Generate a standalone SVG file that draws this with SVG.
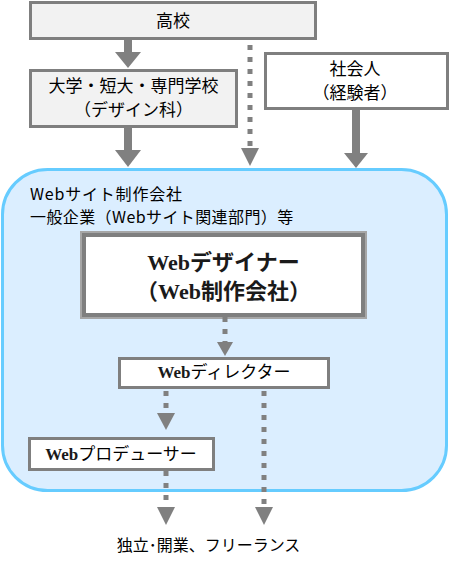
<svg xmlns="http://www.w3.org/2000/svg" width="450" height="566" viewBox="0 0 450 566">
<style>
.box{stroke:#7f7f7f;stroke-width:3}
.t{font-family:"Noto Sans CJK JP","Liberation Sans",sans-serif;fill:#000}
.s{font-family:"Liberation Serif","Noto Sans CJK JP",serif;font-weight:bold;fill:#1a1a1a}
.shaft{fill:#808080}
.dot{stroke:#808080;stroke-width:5;stroke-dasharray:5 7;fill:none}
.head{fill:#808080}
</style>
<rect width="450" height="566" fill="#fff"/>
<g id="company">
<rect x="2.5" y="169.5" width="444" height="321" rx="45" fill="#dbeeff" stroke="#66ccff" stroke-width="3"/>
<text class="t" x="30" y="200" font-size="16" letter-spacing="0.8">Webサイト制作会社</text>
<text class="t" x="30" y="223" font-size="16" letter-spacing="0.4">一般企業（Webサイト関連部門）等</text>
</g>
<g id="koko">
<rect class="box" x="30.5" y="2.5" width="285" height="36" fill="#f2f2f2"/>
<text class="t" x="173" y="27" font-size="17" text-anchor="middle">高校</text>
</g>
<g id="daigaku">
<rect class="box" x="30.5" y="70.5" width="206" height="56" fill="#f2f2f2"/>
<text class="t" x="133.5" y="92" font-size="17" text-anchor="middle">大学・短大・専門学校</text>
<text class="t" x="133.5" y="115.5" font-size="17" text-anchor="middle">（デザイン科）</text>
</g>
<g id="shakaijin">
<rect class="box" x="265.5" y="53.5" width="182" height="55" fill="#fff"/>
<text class="t" x="355" y="75" font-size="17" text-anchor="middle">社会人</text>
<text class="t" x="355" y="98.5" font-size="17" text-anchor="middle">（経験者）</text>
</g>
<g id="designer">
<rect x="81" y="232" width="285" height="86" fill="none" stroke="#a6a6a6" stroke-width="2"/>
<rect x="84" y="235" width="279" height="80" fill="#fff" stroke="#7f7f7f" stroke-width="4"/>
<text class="s" x="223.5" y="270" font-size="22" text-anchor="middle">Webデザイナー</text>
<text class="s" x="223.5" y="299" font-size="22" text-anchor="middle">（Web制作会社）</text>
</g>
<g id="director">
<rect class="box" x="119.5" y="358.5" width="209" height="29" fill="#fff"/>
<text x="224" y="378" font-size="17" text-anchor="middle"><tspan class="s">Web</tspan><tspan class="t">ディレクター</tspan></text>
</g>
<g id="producer">
<rect class="box" x="29.5" y="438.5" width="184" height="31" fill="#fff"/>
<text x="121" y="460" font-size="17" text-anchor="middle"><tspan class="s">Web</tspan><tspan class="t">プロデューサー</tspan></text>
</g>
<g id="independent">
<text class="t" x="208.5" y="551" font-size="16" text-anchor="middle">独立･開業、フリーランス</text>
</g>
<g id="connectors">
<rect class="shaft" x="124" y="40" width="8" height="13"/>
<polygon class="head" points="115,52 141,52 128,68"/>
<rect class="shaft" x="124" y="127" width="8" height="24"/>
<polygon class="head" points="115,150 141,150 128,167"/>
<rect class="shaft" x="352" y="109" width="8" height="45"/>
<polygon class="head" points="344,153 368,153 356,168"/>
<line class="dot" x1="250" y1="45" x2="250" y2="148"/>
<polygon class="head" points="241,148 259,148 250,166"/>
<line class="dot" x1="225" y1="317" x2="225" y2="342"/>
<polygon class="head" points="217,342 233,342 225,356"/>
<line class="dot" x1="166" y1="391" x2="166" y2="413"/>
<polygon class="head" points="157,413 175,413 166,430"/>
<line class="dot" x1="166" y1="471" x2="166" y2="507"/>
<polygon class="head" points="157,507 175,507 166,525"/>
<line class="dot" x1="264" y1="391" x2="264" y2="507"/>
<polygon class="head" points="255,507 273,507 264,525"/>
</g>
</svg>
